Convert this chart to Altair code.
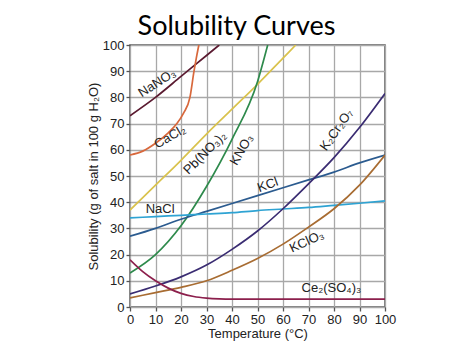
import altair as alt
import pandas as pd

# ---- data ----
nano3_t = [0, 10, 20, 30, 35]
nano3_s = [73, 80, 88, 96, 100]

cacl2_t = [0, 5, 10, 15, 18.4, 21, 23.5, 25.1, 26, 27]
cacl2_s = [58, 59.5, 62.5, 66.5, 70, 74, 80, 90, 95, 100]

pbno3_t = [0, 10, 20, 30, 40, 50, 60, 65]
pbno3_s = [37, 46.5, 56, 66, 75.5, 85, 95, 100]

kno3_t = [0, 10, 20, 30, 40, 50, 54]
kno3_s = [13, 20, 31, 46, 64, 86, 100]

kcl_t = [0, 10, 20, 30, 40, 50, 60, 70, 80, 90, 100]
kcl_s = [27, 30, 33.5, 36.5, 39.5, 42.5, 45.5, 48.5, 51.5, 55, 58]

nacl_t = [0, 10, 20, 30, 40, 50, 60, 70, 80, 90, 100]
nacl_s = [34, 34.5, 35, 35.5, 36, 36.8, 37.4, 38, 38.8, 39.6, 40.5]

k2cr2o7_t = [0, 10, 20, 30, 40, 50, 60, 70, 80, 90, 100]
k2cr2o7_s = [5, 8, 11.5, 16, 22, 29, 37.5, 47, 57, 68.5, 81.5]

kclo3_t = [0, 10, 20, 30, 40, 50, 60, 70, 80, 90, 100]
kclo3_s = [3.5, 5.5, 7.5, 10, 14, 18.5, 24, 30.5, 37.5, 46.5, 58]

ce_t = [0, 5, 10, 15, 20, 25, 30, 35, 40, 60, 80, 100]
ce_s = [18, 13.5, 10, 7.2, 5.2, 4, 3.4, 3.1, 3, 3, 3, 3]

names = ["NaNO3", "CaCl2", "Pb(NO3)2", "KNO3", "KCl", "NaCl", "K2Cr2O7", "KClO3", "Ce2(SO4)3"]
temps = [nano3_t, cacl2_t, pbno3_t, kno3_t, kcl_t, nacl_t, k2cr2o7_t, kclo3_t, ce_t]
sols = [nano3_s, cacl2_s, pbno3_s, kno3_s, kcl_s, nacl_s, k2cr2o7_s, kclo3_s, ce_s]
colors = ["#5a1a30", "#d8683c", "#d9c24c", "#2e8a4c", "#2b5b8f", "#2ea3d3", "#3a2c72", "#a86c32", "#8c1f4c"]

label_text = ["NaNO₃", "CaCl₂", "Pb(NO₃)₂", "KNO₃", "K₂Cr₂O₇", "KCl", "NaCl", "KClO₃", "Ce₂(SO₄)₃"]
label_x = [10.6, 15.7, 29.4, 43.8, 81, 54, 11.8, 69.3, 79]
label_y = [85.5, 65, 58.8, 60, 67.6, 46.6, 37.4, 25, 7.2]
label_angle = [327, 330, 315, 300, 305, 340, 0, 335, 0]

x_ticks = [0, 10, 20, 30, 40, 50, 60, 70, 80, 90, 100]
y_ticks = [0, 10, 20, 30, 40, 50, 60, 70, 80, 90, 100]

rows = []
for n, ts, ss in zip(names, temps, sols):
    for t, s in zip(ts, ss):
        rows.append({"salt": n, "t": t, "s": s})
df = pd.DataFrame(rows)

lab = pd.DataFrame({"text": label_text, "x": label_x, "y": label_y, "a": label_angle})

xs = alt.Scale(domain=[0, 100], nice=False)
ys = alt.Scale(domain=[0, 100], nice=False)

x_axis = alt.Axis(values=x_ticks, grid=True, labelOverlap=False, labelFlush=False,
                  title="Temperature (°C)", titlePadding=1)
y_axis = alt.Axis(values=y_ticks, grid=True, labelOverlap=False, labelFlush=False,
                  title="Solubility (g of salt in 100 g H₂O)", titlePadding=2)

lines = alt.Chart(df).mark_line(strokeWidth=1.7, interpolate="monotone", clip=True).encode(
    x=alt.X("t:Q", scale=xs, axis=x_axis),
    y=alt.Y("s:Q", scale=ys, axis=y_axis),
    color=alt.Color("salt:N", scale=alt.Scale(domain=names, range=colors), legend=None),
    detail="salt:N",
)

labels = alt.Chart(lab).mark_text(fontSize=13, font="Liberation Sans", color="#222222").encode(
    x=alt.X("x:Q", scale=xs, axis=x_axis),
    y=alt.Y("y:Q", scale=ys, axis=y_axis),
    text="text:N",
    angle=alt.Angle("a:Q", scale=None),
)

chart = (lines + labels).properties(
    width=255,
    height=262,
    autosize=alt.AutoSizeParams(type="none"),
    padding={"left": 122, "top": 37, "right": 81, "bottom": 40},
    title=alt.TitleParams("Solubility Curves", font="Lato", fontSize=27, fontWeight="normal",
                          color="#000000", anchor="middle", dx=-21, dy=10, offset=8),
).configure_view(
    stroke="#555555", strokeWidth=1.5
).configure_axis(
    gridColor="#a8a8a8", gridWidth=1.3, gridOpacity=1,
    domain=False, tickColor="#555555", tickSize=4, tickWidth=1.3,
    labelFont="Liberation Sans", labelFontSize=13, labelColor="#222222",
    titleFont="Liberation Sans", titleFontSize=13, titleFontWeight="normal", titleColor="#222222",
    labelPadding=2, labelOverlap=False, labelFlush=False,
)

chart.save("out.html", embed_options={"renderer": "svg", "actions": False})
